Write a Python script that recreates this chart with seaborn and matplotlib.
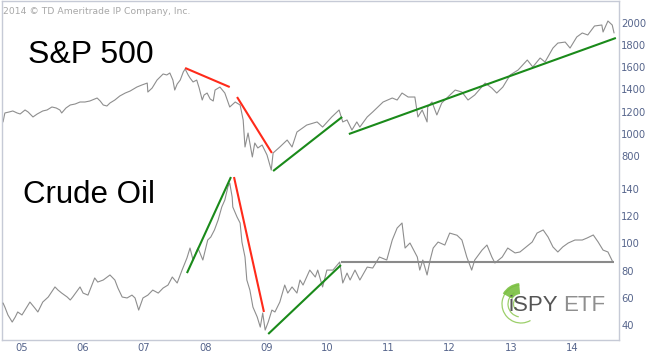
import matplotlib
matplotlib.use("Agg")
import matplotlib.pyplot as plt
import seaborn as sns
import pandas as pd
from matplotlib.patches import Arc, Wedge
from matplotlib.transforms import IdentityTransform

# ---------------- data (decimal years, values) ----------------
spx_t = [2004.78, 2004.81, 2004.88, 2004.94, 2005.01, 2005.06, 2005.14, 2005.19, 2005.27, 2005.34,
         2005.43, 2005.50, 2005.58, 2005.65, 2005.71, 2005.74, 2005.81, 2005.88, 2005.96, 2006.04,
         2006.12, 2006.20, 2006.32, 2006.37, 2006.42, 2006.48, 2006.53, 2006.61, 2006.69, 2006.78,
         2006.86, 2006.97, 2007.05, 2007.14, 2007.15, 2007.22, 2007.30, 2007.35, 2007.40, 2007.46,
         2007.51, 2007.56, 2007.59, 2007.63, 2007.68, 2007.73, 2007.76, 2007.81, 2007.84, 2007.89,
         2007.95, 2007.99, 2008.04, 2008.07, 2008.12, 2008.17, 2008.22, 2008.25, 2008.33, 2008.41,
         2008.49, 2008.58, 2008.66, 2008.71, 2008.74, 2008.79, 2008.86, 2008.90, 2008.95, 2009.02,
         2009.10, 2009.17, 2009.20, 2009.31, 2009.43, 2009.51, 2009.59, 2009.75, 2009.92, 2010.01,
         2010.16, 2010.28, 2010.34, 2010.41, 2010.49, 2010.57, 2010.62, 2010.74, 2010.83, 2011.00,
         2011.15, 2011.23, 2011.31, 2011.41, 2011.52, 2011.57, 2011.64, 2011.72, 2011.73, 2011.80,
         2011.88, 2011.96, 2012.06, 2012.18, 2012.29, 2012.39, 2012.50, 2012.67, 2012.78, 2012.86,
         2012.96, 2013.08, 2013.21, 2013.36, 2013.45, 2013.57, 2013.65, 2013.78, 2013.86, 2013.98,
         2014.06, 2014.17, 2014.26, 2014.35, 2014.46, 2014.58, 2014.60, 2014.68, 2014.75, 2014.78]
spx_v = [1107, 1188, 1197, 1206, 1188, 1179, 1215, 1197, 1152, 1179,
         1206, 1215, 1242, 1233, 1215, 1188, 1233, 1260, 1269, 1287,
         1287, 1296, 1323, 1296, 1260, 1251, 1278, 1305, 1341, 1368,
         1386, 1422, 1440, 1458, 1377, 1413, 1485, 1513, 1540, 1531,
         1549, 1485, 1395, 1449, 1485, 1558, 1585, 1531, 1504, 1468,
         1485, 1413, 1305, 1350, 1368, 1314, 1296, 1395, 1422, 1368,
         1242, 1287, 1260, 1125, 881, 1007, 791, 917, 872, 899,
         809, 673, 827, 881, 944, 881, 1016, 1079, 1107, 1061,
         1152, 1215, 1107, 1125, 1034, 1107, 1061, 1152, 1197, 1287,
         1323, 1305, 1368, 1332, 1332, 1152, 1215, 1107, 1242, 1287,
         1170, 1278, 1332, 1395, 1377, 1305, 1350, 1458, 1413, 1368,
         1422, 1531, 1576, 1666, 1603, 1684, 1648, 1774, 1819, 1828,
         1774, 1874, 1910, 1892, 1973, 1982, 1919, 2018, 1982, 1910]

oil_t = [2004.78, 2004.81, 2004.86, 2004.93, 2004.98, 2005.02, 2005.09, 2005.17, 2005.22, 2005.30,
         2005.35, 2005.43, 2005.52, 2005.63, 2005.68, 2005.74, 2005.83, 2005.88, 2005.92, 2006.04,
         2006.09, 2006.17, 2006.28, 2006.33, 2006.42, 2006.53, 2006.61, 2006.66, 2006.73, 2006.81,
         2006.89, 2006.94, 2007.00, 2007.07, 2007.15, 2007.23, 2007.32, 2007.40, 2007.48, 2007.55,
         2007.63, 2007.71, 2007.79, 2007.84, 2007.89, 2007.97, 2008.05, 2008.13, 2008.18, 2008.24,
         2008.30, 2008.36, 2008.41, 2008.46, 2008.49, 2008.53, 2008.54, 2008.61, 2008.66, 2008.69,
         2008.74, 2008.77, 2008.82, 2008.87, 2008.94, 2008.99, 2009.03, 2009.07, 2009.12, 2009.18,
         2009.23, 2009.31, 2009.39, 2009.44, 2009.51, 2009.59, 2009.64, 2009.69, 2009.80, 2009.89,
         2009.93, 2010.01, 2010.08, 2010.18, 2010.29, 2010.34, 2010.41, 2010.46, 2010.54, 2010.62,
         2010.74, 2010.83, 2010.94, 2011.06, 2011.15, 2011.23, 2011.31, 2011.36, 2011.44, 2011.56,
         2011.60, 2011.65, 2011.72, 2011.77, 2011.82, 2011.90, 2012.01, 2012.09, 2012.21, 2012.29,
         2012.37, 2012.45, 2012.50, 2012.62, 2012.70, 2012.78, 2012.83, 2012.95, 2013.04, 2013.16,
         2013.24, 2013.32, 2013.44, 2013.52, 2013.62, 2013.70, 2013.78, 2013.86, 2013.94, 2014.03,
         2014.14, 2014.26, 2014.34, 2014.44, 2014.52, 2014.60, 2014.68, 2014.76]
oil_v = [56.2, 53.2, 47.4, 42.2, 45.9, 49.6, 47.4, 53.2, 56.9, 52.5,
         49.6, 56.9, 60.6, 68.0, 65.7, 63.5, 60.6, 58.4, 60.6, 68.0,
         63.5, 62.0, 74.6, 71.6, 73.1, 76.8, 73.1, 67.2, 60.6, 59.9,
         62.0, 59.9, 51.0, 59.9, 62.0, 65.7, 63.5, 67.2, 69.4, 75.3,
         70.9, 80.4, 89.3, 96.6, 87.8, 96.6, 87.8, 102.5, 104.7, 109.9,
         117.2, 126.8, 131.9, 141.5, 144.4, 134.1, 126.8, 119.4, 115.0, 101.0,
         90.0, 73.1, 65.7, 53.2, 45.9, 38.5, 48.8, 36.3, 42.2, 51.0,
         49.6, 56.9, 69.4, 63.5, 68.0, 63.5, 73.1, 69.4, 80.4, 75.3,
         80.4, 68.0, 80.4, 80.4, 86.3, 70.9, 78.2, 73.1, 80.4, 73.1,
         82.6, 81.9, 90.0, 87.8, 102.5, 111.3, 115.0, 96.6, 100.3, 90.0,
         80.4, 87.8, 76.8, 87.8, 96.6, 101.0, 98.8, 107.6, 106.0, 102.5,
         90.0, 80.4, 87.8, 95.1, 98.8, 90.0, 85.6, 90.0, 96.6, 93.0,
         93.7, 96.6, 101.0, 107.6, 109.9, 104.7, 97.4, 93.7, 97.4, 100.3,
         102.5, 102.5, 104.0, 106.2, 101.0, 95.1, 93.7, 86.3]

# trend lines: [t_start, t_end], [v_start, v_end]
spx_red1_t, spx_red1_v = [2007.76, 2008.49], [1594, 1422]
spx_red2_t, spx_red2_v = [2008.61, 2009.18], [1332, 827]
spx_grn1_t, spx_grn1_v = [2009.20, 2010.33], [664, 1152]
spx_grn2_t, spx_grn2_v = [2010.44, 2014.81], [998, 1865]
oil_grn1_t, oil_grn1_v = [2007.79, 2008.51], [78.2, 148.8]
oil_red1_t, oil_red1_v = [2008.56, 2009.05], [148.8, 49.6]
oil_grn2_t, oil_grn2_v = [2009.12, 2010.31], [33.4, 84.1]
oil_flat_t, oil_flat_v = [2010.31, 2014.78], [86.3, 86.3]

year_ticks = [2005, 2006, 2007, 2008, 2009, 2010, 2011, 2012, 2013, 2014]
year_labels = ["05", "06", "07", "08", "09", "10", "11", "12", "13", "14"]
spx_ticks = [800, 1000, 1200, 1400, 1600, 1800, 2000]
oil_ticks = [40, 60, 80, 100, 120, 140]

# ---------------- style ----------------
sns.set_style("white")
plt.rcParams["font.family"] = ["DejaVu Sans"]

W, H = 650, 355
fig = plt.figure(figsize=(W / 100, H / 100), dpi=100)
ax = fig.add_axes([2 / W, 15 / H, 617 / W, 339 / H])
ax2 = ax.twinx()

line_c = "#8e8e8e"
red = "#ff2a1a"
green = "#1a8a1a"
tick_c = "#56658c"
spine_c = "#c6cad6"

spx = pd.DataFrame({"t": spx_t, "v": spx_v})
oil = pd.DataFrame({"t": oil_t, "v": oil_v})
sns.lineplot(data=spx, x="t", y="v", ax=ax, color=line_c, lw=0.8, sort=False, estimator=None)
sns.lineplot(data=oil, x="t", y="v", ax=ax2, color=line_c, lw=0.8, sort=False, estimator=None)

for tt, vv, c in [(spx_red1_t, spx_red1_v, red), (spx_red2_t, spx_red2_v, red),
                  (spx_grn1_t, spx_grn1_v, green), (spx_grn2_t, spx_grn2_v, green)]:
    ax.plot(tt, vv, color=c, lw=1.5, solid_capstyle="butt")
for tt, vv, c in [(oil_grn1_t, oil_grn1_v, green), (oil_red1_t, oil_red1_v, red),
                  (oil_grn2_t, oil_grn2_v, green), (oil_flat_t, oil_flat_v, "#8a8a8a")]:
    ax2.plot(tt, vv, color=c, lw=1.5, solid_capstyle="butt")

ax.set_xlim(2004.763, 2014.861)
ax.set_ylim(-861, 2198.6)
ax2.set_ylim(29.0, 278.2)

ax.set_xticks([y + 0.09 for y in year_ticks])
ax.set_xticklabels(year_labels)
ax.set_yticks(spx_ticks)
ax.set_yticklabels([str(v) for v in spx_ticks])
ax2.set_yticks(oil_ticks)
ax2.set_yticklabels([str(v) for v in oil_ticks])
for a in (ax, ax2):
    a.set_xlabel("")
    a.set_ylabel("")
    a.tick_params(axis="y", left=False, right=False, labelleft=False, labelright=True,
                  pad=1.5, labelsize=7.2, labelcolor=tick_c, length=0)
ax.tick_params(axis="x", length=0, pad=2.5, labelsize=7.2, labelcolor=tick_c)
for s in ax.spines.values():
    s.set_color(spine_c)
    s.set_linewidth(1.0)
for s in ax2.spines.values():
    s.set_visible(False)

# ---------------- texts ----------------
fig.text(3 / W, 1 - 11 / H, "2014 \u00a9 TD Ameritrade IP Company, Inc.", fontsize=6.7,
         color="#a8a8a8", va="center", ha="left")
fig.text(28 / W, 1 - 63 / H, "S&P 500", fontsize=23, color="black", va="baseline",
         ha="left", family=["Liberation Sans", "DejaVu Sans"])
fig.text(23 / W, 1 - 203 / H, "Crude Oil", fontsize=22.5, color="black", va="baseline",
         ha="left", family=["Liberation Sans", "DejaVu Sans"])

# ---------------- logo ----------------
cx, cy = 521, H - 304
for r, t1, t2 in [(19, 95, 300), (13, 120, 260), (7.5, 140, 235)]:
    fig.add_artist(Arc((cx, cy), 2 * r, 2 * r, theta1=t1, theta2=t2, color="#9ccf6a",
                       lw=0.9, transform=IdentityTransform()))
fig.add_artist(Wedge((cx, cy), 21, 95, 150, width=11, color="#79bf3f", alpha=0.9,
                     transform=IdentityTransform(), lw=0))
fig.text(509 / W, 1 - 311 / H, "iSPY", fontsize=16, color="#555555", va="baseline",
         ha="left", family=["Liberation Sans", "DejaVu Sans"])
fig.text(563 / W, 1 - 311 / H, "ETF", fontsize=16, color="#8f8f8f", va="baseline",
         ha="left", family=["Liberation Sans", "DejaVu Sans"])

fig.savefig("out.png", dpi=100)
